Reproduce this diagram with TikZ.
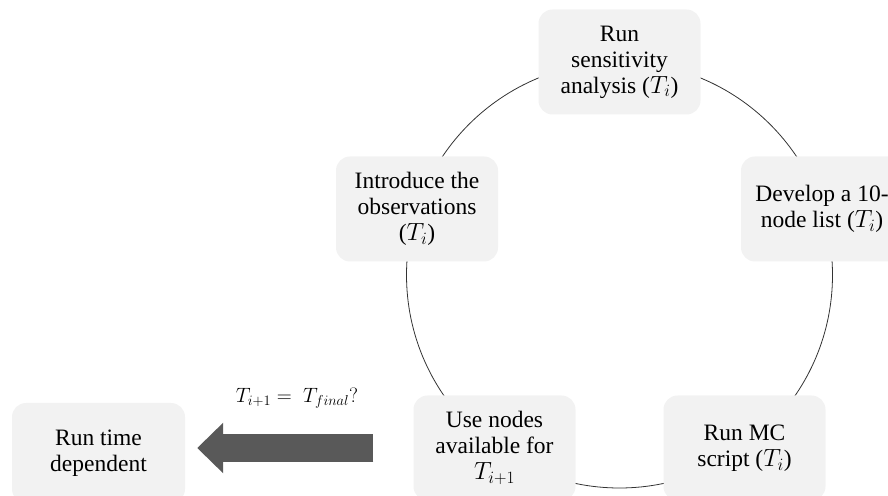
\documentclass[tikz,border=0pt]{standalone}
\usepackage{fontspec}
\setmainfont{Liberation Serif}
\usepackage{amsmath}
\usepackage{tikz}
\usetikzlibrary{positioning}
\usetikzlibrary{arrows.meta}
\definecolor{boxgray}{HTML}{F2F2F2}
\definecolor{arrowgray}{HTML}{595959}
\tikzset{stagebox/.style={fill=boxgray, rounded corners=14pt, minimum width=162pt, minimum height=105pt, align=center, inner sep=2pt, font=\fontsize{23.5}{26}\selectfont}}
\tikzset{bigarrow/.style={draw=arrowgray, line width=27pt, -{Triangle[length=26pt,width=49pt]}}}

\begin{document}
\begin{tikzpicture}[x=1pt,y=1pt]
\useasboundingbox (0,0) rectangle (888,495);
%\draw (619.5,220) circle (213pt);
\coordinate (hub) at (619.5,220);
\draw[black!80, line width=0.8pt] (hub) circle (213pt);
\node[stagebox] (sens) at (619.5,433) {Run\\sensitivity\\analysis ($T_i$)};
\node[stagebox] (dev) at (822,286) {Develop a 10-\\node list ($T_i$)};
\node[stagebox] (mc) at (744.5,47) {Run MC\\script ($T_i$)};
\node[stagebox] (use) at (494.5,47) {Use nodes\\available for\\$T_{i+1}$};
\node[stagebox] (obs) at (417,286) {Introduce the\\observations\\($T_i$)};
\node[stagebox, minimum width=173pt, minimum height=100pt] (timedep) at (98.5,42) {Run time\\dependent};
%\draw[bigarrow] (use) -- (timedep);
\draw[bigarrow, shorten <=40pt, shorten >=12pt] (use.west) -- (use.west -| timedep.east);
\node[font=\fontsize{22.5}{26}\selectfont] (cond) at (297,97) {$T_{i+1} =\ T_{final}?$};
\end{tikzpicture}
\end{document}
